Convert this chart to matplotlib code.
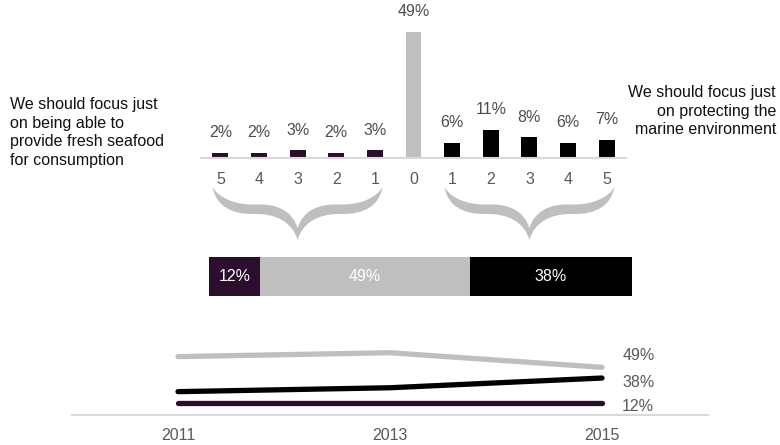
import matplotlib.pyplot as plt
from matplotlib.path import Path
from matplotlib.patches import PathPatch

plt.rcParams['font.family'] = ['Liberation Sans', 'DejaVu Sans']

# survey answers on a 5-0-5 scale
scale_labels = ['5', '4', '3', '2', '1', '0', '1', '2', '3', '4', '5']
seafood_pct = [2, 2, 3, 2, 3]
neutral_pct = 49
marine_pct = [6, 11, 8, 6, 7]

# summary shares
summary_pct = [sum(seafood_pct), neutral_pct, sum(marine_pct)]

# trend over the survey waves
years = [2011, 2013, 2015]
trend_seafood = [12, 12, 12]
trend_neutral = [60, 64, 49]
trend_marine = [24, 28, 38]

PURPLE = '#2b0e2d'
GREY = '#bfbfbf'
BLACK = '#000000'
AXIS = '#d9d9d9'
TXT = '#595959'

W, H = 780, 445
fig = plt.figure(figsize=(W / 100, H / 100), dpi=100)


def px_axes(l, t, r, b):
    return fig.add_axes([l / W, 1 - b / H, (r - l) / W, (b - t) / H])


def clean(ax):
    for s in ['top', 'right', 'left']:
        ax.spines[s].set_visible(False)
    ax.spines['bottom'].set_color(AXIS)
    ax.spines['bottom'].set_linewidth(1.5)
    ax.set_yticks([])


# overlay for the braces
ov = fig.add_axes([0, 0, 1, 1])
ov.set_xlim(0, W)
ov.set_ylim(H, 0)
ov.set_axis_off()

# distribution bars
bar_l, bar_r, bar_base = 201, 626, 158
px_per_pct = 2.571
ax = px_axes(bar_l, 0, bar_r, bar_base)
values = seafood_pct + [neutral_pct] + marine_pct
colors = [PURPLE] * len(seafood_pct) + [GREY] + [BLACK] * len(marine_pct)
xs = list(range(len(values)))
ax.bar(xs, values, width=0.41, color=colors)
ax.set_xlim(-0.5, len(values) - 0.5)
ax.set_ylim(0, bar_base / px_per_pct)
clean(ax)
ax.set_xticks(xs, scale_labels)
ax.tick_params(axis='x', length=0, pad=10, labelsize=11.5, labelcolor=TXT)
for x, v in zip(xs, values):
    ax.annotate(f'{v}%', (x, v), xytext=(0, 14.5), textcoords='offset points',
                ha='center', va='center', fontsize=11.5, color='#4d4d4d')


def brace(cx, half, top, depth):
    pts = [(0, 0), (0.04, 0.36), (0.22, 0.52), (0.5, 0.51),
           (0.74, 0.50), (0.94, 0.66), (1, 1),
           (1.06, 0.66), (1.26, 0.50), (1.5, 0.51),
           (1.78, 0.52), (1.96, 0.36), (2, 0),
           (1.93, 0.20), (1.74, 0.34), (1.5, 0.33),
           (1.24, 0.31), (1.06, 0.45), (1, 0.78),
           (0.94, 0.45), (0.76, 0.31), (0.5, 0.33),
           (0.26, 0.34), (0.07, 0.20), (0, 0)]
    verts = [(cx - half + u * half, top + v * depth) for u, v in pts]
    codes = [Path.MOVETO] + [Path.CURVE4] * (len(pts) - 1)
    ov.add_patch(PathPatch(Path(verts, codes), facecolor=GREY, edgecolor='none'))


cat_w = (bar_r - bar_l) / len(values)
for grp in (2, 8):
    brace(bar_l + (grp + 0.5) * cat_w, 2.2 * cat_w, 187, 53)

# summary stacked bar
sb = px_axes(209, 257, 632, 296)
left = 0
for v, c in zip(summary_pct, [PURPLE, GREY, BLACK]):
    sb.barh(0, v, left=left, height=1, color=c)
    sb.text(left + v / 2, 0, f'{v}%', ha='center', va='center',
            color='white', fontsize=11.5)
    left += v
sb.set_xlim(0, left)
sb.set_ylim(-0.5, 0.5)
sb.set_axis_off()

# trend lines
lx = px_axes(72, 330, 708, 415)
lx.plot(years, trend_neutral, color=GREY, lw=3.8, solid_capstyle='round')
lx.plot(years, trend_marine, color=BLACK, lw=3.8, solid_capstyle='round')
lx.plot(years, trend_seafood, color=PURPLE, lw=3.8, solid_capstyle='round')
lx.set_xlim(2010, 2016)
lx.set_ylim(0, 85 / 0.973)
clean(lx)
lx.set_xticks(years, [str(y) for y in years])
lx.tick_params(axis='x', length=0, pad=9, labelsize=11.5, labelcolor=TXT)
for series, dy in zip([trend_neutral, trend_marine, trend_seafood], [8.5, -3, -2]):
    lx.annotate(f'{series[-1]}%', (years[-1], series[-1]), xytext=(14.5, dy),
                textcoords='offset points', ha='left', va='center',
                fontsize=11.5, color=TXT)

# side captions
fig.text(10 / W, 1 - 97 / H,
         'We should focus just\non being able to\nprovide fresh seafood\nfor consumption',
         ha='left', va='top', fontsize=11.5, color='#111111', linespacing=1.3)
fig.text(776 / W, 1 - 85 / H,
         'We should focus just\non protecting the\nmarine environment',
         ha='right', va='top', fontsize=11.5, color='#111111', linespacing=1.3,
         multialignment='right')

fig.savefig('out.png', dpi=100)
